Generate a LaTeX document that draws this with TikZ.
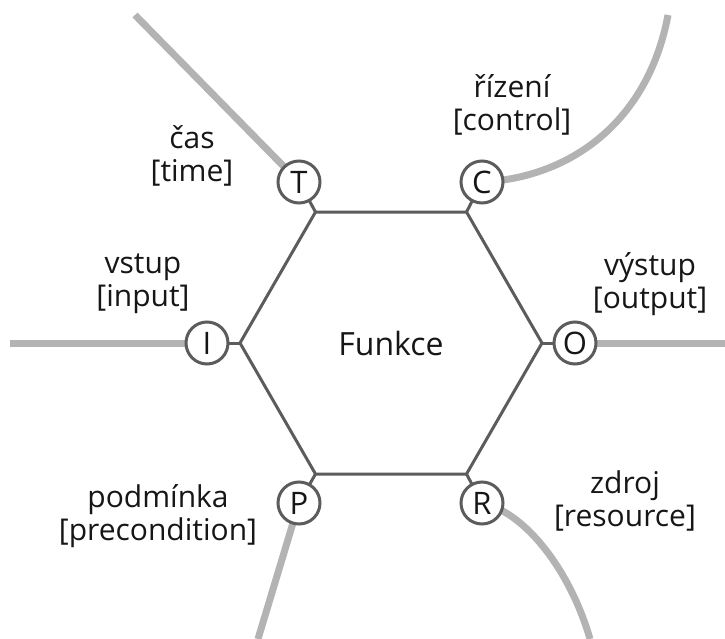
\documentclass[tikz,border=0pt]{standalone}
\usepackage{fontspec}
\setmainfont{Open Sans}
\definecolor{edgegray}{HTML}{5C5C5C}
\definecolor{feedgray}{HTML}{B3B3B3}
\definecolor{txt}{HTML}{161616}
\begin{document}
\begin{tikzpicture}[x=1pt,y=-1pt,
  edge/.style={draw=edgegray,line width=3pt},
  feed/.style={draw=feedgray,line width=7pt},
  port/.style={circle,draw=edgegray,line width=3pt,fill=white,minimum size=42pt,inner sep=0pt,text=txt,font=\fontsize{31}{33}\selectfont},
  lbl/.style={align=center,inner sep=0pt,text=txt,font=\fontsize{30}{33}\selectfont}]
\useasboundingbox (0,0) rectangle (725,639);
% hexagon corners
\coordinate (v0) at (542,343);
\coordinate (v60) at (466.5,212);
\coordinate (v120) at (315.5,212);
\coordinate (v180) at (240,343);
\coordinate (v240) at (315.5,474);
\coordinate (v300) at (466.5,474);
% free ends
\coordinate (tend) at (135,15);
\coordinate (cend) at (668,15);
\coordinate (iend) at (10,343);
\coordinate (oend) at (725,343);
\coordinate (pend) at (258,639);
\coordinate (rend) at (590,639);
% port positions
\coordinate (pT) at (299,182);
\coordinate (pC) at (482,182);
\coordinate (pI) at (207,343);
\coordinate (pO) at (575,343);
\coordinate (pP) at (299,503);
\coordinate (pR) at (482,503);
% feed lines
\draw[feed] (pT) -- (tend);
\draw[feed] (pC) .. controls (570,178) and (648,122) .. (cend);
\draw[feed] (iend) -- (pI);
\draw[feed] (pO) -- (oend);
\draw[feed] (pP) -- (pend);
\draw[feed] (pR) .. controls (525,512) and (570,570) .. (rend);
% hexagon
\draw[edge] (v0) -- (v60) -- (v120) -- (v180) -- (v240) -- (v300) -- cycle;
\draw[edge] (v120) -- (pT);
\draw[edge] (v60) -- (pC);
\draw[edge] (v180) -- (pI);
\draw[edge] (v0) -- (pO);
\draw[edge] (v240) -- (pP);
\draw[edge] (v300) -- (pR);
% ports
\node[port] (T) at (pT) {T};
\node[port] (C) at (pC) {C};
\node[port] (I) at (pI) {I};
\node[port] (O) at (pO) {O};
\node[port] (P) at (pP) {P};
\node[port] (R) at (pR) {R};
% texts
\node[lbl,font=\fontsize{32}{33}\selectfont] (fn) at (391,343) {Funkce};
\node[lbl] (time) at (192,156) {čas\\{[time]}};
\node[lbl] (control) at (512,105) {řízení\\{[control]}};
\node[lbl] (input) at (143,284) {vstup\\{[input]}};
\node[lbl] (output) at (650,284) {výstup\\{[output]}};
\node[lbl] (precond) at (158,516) {podmínka\\{[precondition]}};
\node[lbl] (resource) at (625,501) {zdroj\\{[resource]}};
\end{tikzpicture}
\end{document}
